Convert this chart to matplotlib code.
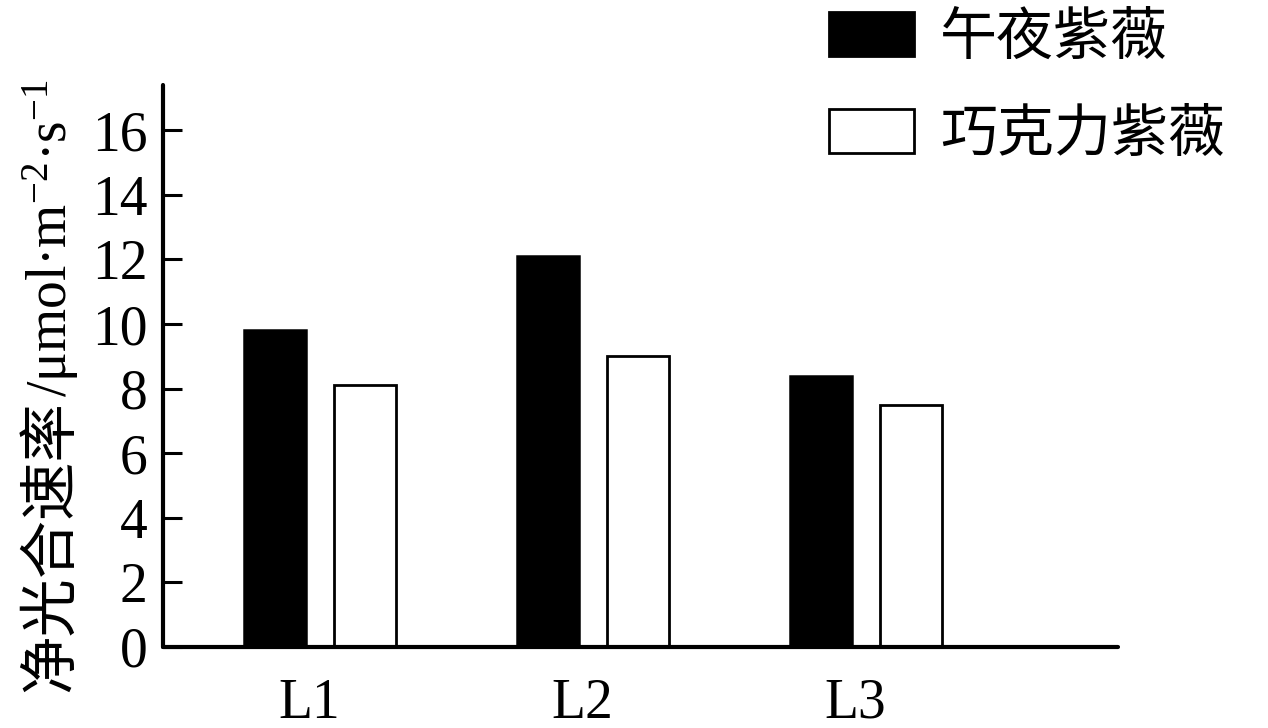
import numpy as np
import matplotlib
matplotlib.use("Agg")
import matplotlib.pyplot as plt

# values
groups = ["L1", "L2", "L3"]
series_names = ["午夜紫薇", "巧克力紫薇"]
midnight = [9.8, 12.1, 8.4]      # 午夜紫薇 (black)
chocolate = [8.1, 9.0, 7.5]      # 巧克力紫薇 (white)
y_ticks = [0, 2, 4, 6, 8, 10, 12, 14, 16]
ylabel_cn = "净光合速率"
ylabel_unit = "/μmol·m$^{-2}$·s$^{-1}$"

plt.rcParams["font.family"] = ["Liberation Serif", "Noto Sans CJK SC"]
plt.rcParams["mathtext.fontset"] = "custom"
plt.rcParams["mathtext.rm"] = "Liberation Serif"
plt.rcParams["mathtext.it"] = "Liberation Serif"

fig = plt.figure(figsize=(12.68, 7.28), dpi=100)
ax = fig.add_axes([0.1286, 0.1113, 0.7531, 0.7719])

x = np.arange(len(groups))
width = 0.227
offset = 0.164

ax.bar(x - offset, midnight, width, color="black", edgecolor="black",
       linewidth=1.8, label=series_names[0])
ax.bar(x + offset, chocolate, width, color="white", edgecolor="black",
       linewidth=2.0, label=series_names[1])

ax.set_xlim(-0.575, 2.923)
ax.set_ylim(0, 17.4)

ax.spines["top"].set_visible(False)
ax.spines["right"].set_visible(False)
for side in ["left", "bottom"]:
    ax.spines[side].set_linewidth(3)
    ax.spines[side].set_capstyle("round")

ax.set_yticks(y_ticks)
ax.set_xticks(x - 0.04)
ax.set_xticklabels(groups)
ax.tick_params(axis="y", direction="in", length=14, width=2.2, pad=11,
               labelsize=40)
ax.tick_params(axis="x", length=0, pad=22, labelsize=40)

# y label in two pieces: chinese part + unit (mathtext has no CJK fallback)
t1 = fig.text(67 / 1268, 1 - 692 / 728, ylabel_cn, rotation=90,
              rotation_mode="anchor", ha="left", va="baseline",
              fontsize=42, family="Noto Sans CJK SC")
renderer = fig.canvas.get_renderer()
bb = t1.get_window_extent(renderer)
fig.text(67 / 1268, bb.y1 / fig.bbox.height + 0.004, ylabel_unit,
         rotation=90, rotation_mode="anchor", ha="left", va="baseline",
         fontsize=40)

leg = ax.legend(loc="upper left", bbox_to_anchor=(0.697, 1.13),
                frameon=False, fontsize=41, handlelength=1.5,
                handleheight=0.8, handletextpad=0.45, labelspacing=0.77,
                borderaxespad=0, borderpad=0)
for h in leg.legend_handles:
    h.set_linewidth(2.0)

fig.savefig("out.png", dpi=100)
